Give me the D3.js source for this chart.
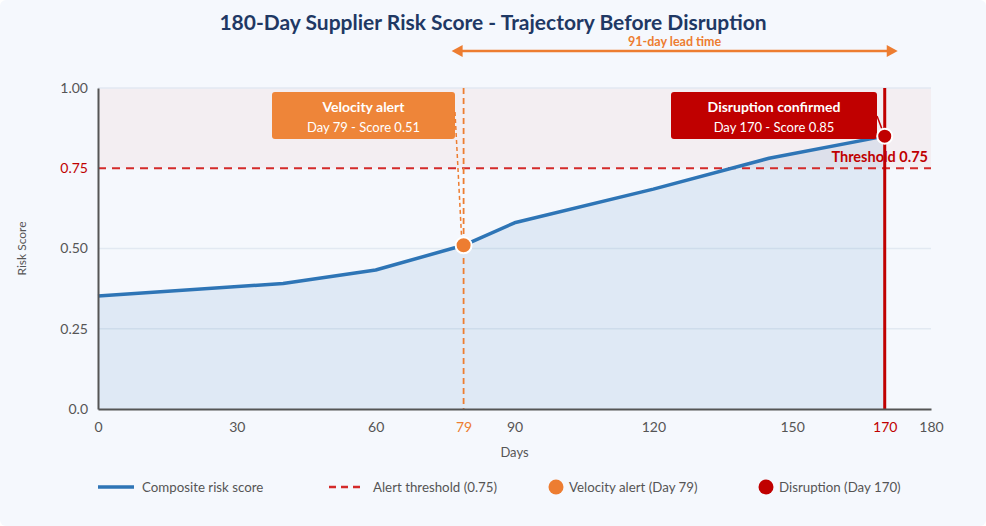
<!DOCTYPE html>
<html>
<head>
<meta charset="utf-8">
<script src="https://cdn.jsdelivr.net/npm/d3@7"></script>
<style>
  html, body { margin: 0; padding: 0; background: #ffffff; }
  svg { display: block; font-family: Lato, "Open Sans", sans-serif; }
</style>
</head>
<body>
<div id="chart"></div>
<script>
// risk score trajectory
const days = [0, 40, 60, 79, 90, 120, 145, 170];
const scores = [0.352, 0.391, 0.433, 0.51, 0.58, 0.685, 0.781, 0.85];

const xTicks = [0, 30, 60, 79, 90, 120, 150, 170, 180];
const yTicks = [0, 0.25, 0.5, 0.75, 1];

const threshold = 0.75;
const alertDay = 79;
const alertScore = 0.51;
const disruptionDay = 170;
const disruptionScore = 0.85;

const legendItems = [
  { label: "Composite risk score", type: "line" },
  { label: "Alert threshold (0.75)", type: "dash" },
  { label: "Velocity alert (Day 79)", type: "orange" },
  { label: "Disruption (Day 170)", type: "red" }
];

const width = 986;
const height = 526;
const margin = { top: 88, right: 55, bottom: 117, left: 98 };

const blue = "#2e75b6";
const orange = "#ed7d31";
const red = "#c00000";
const dashRed = "#d42a2a";

const svg = d3.select("#chart").append("svg")
  .attr("width", width)
  .attr("height", height);

svg.append("rect")
  .attr("x", 0).attr("y", 0)
  .attr("width", width).attr("height", height)
  .attr("rx", 6)
  .attr("fill", "#f5f8fd");

const x = d3.scaleLinear().domain([0, 180]).range([margin.left, width - margin.right]);
const y = d3.scaleLinear().domain([0, 1]).range([height - margin.bottom, margin.top]);

const data = days.map((d, i) => ({ day: d, score: scores[i] }));

// danger zone above threshold
svg.append("rect")
  .attr("x", x(0))
  .attr("y", y(1))
  .attr("width", x(180) - x(0))
  .attr("height", y(threshold) - y(1))
  .attr("fill", "#f3eef2");

// gridlines
svg.append("g")
  .selectAll("line")
  .data(yTicks.filter(t => t !== 0 && t !== threshold))
  .join("line")
  .attr("x1", x(0)).attr("x2", x(180))
  .attr("y1", d => y(d)).attr("y2", d => y(d))
  .attr("stroke", "#e2e9f2")
  .attr("stroke-width", 1.5);

// area under curve
const area = d3.area()
  .x(d => x(d.day))
  .y0(y(0))
  .y1(d => y(d.score));

svg.append("path")
  .datum(data)
  .attr("d", area)
  .attr("fill", "#2e75b6")
  .attr("fill-opacity", 0.11);

// threshold line
svg.append("line")
  .attr("x1", x(0)).attr("x2", x(180))
  .attr("y1", y(threshold)).attr("y2", y(threshold))
  .attr("stroke", dashRed)
  .attr("stroke-width", 2)
  .attr("stroke-dasharray", "8,6");

svg.append("text")
  .attr("x", x(180) - 3)
  .attr("y", y(threshold) - 6)
  .attr("text-anchor", "end")
  .attr("font-size", 14.5)
  .attr("font-weight", "bold")
  .attr("fill", red)
  .text("Threshold 0.75");

// velocity alert vertical
svg.append("line")
  .attr("x1", x(alertDay)).attr("x2", x(alertDay))
  .attr("y1", y(1)).attr("y2", y(0))
  .attr("stroke", orange)
  .attr("stroke-width", 1.8)
  .attr("stroke-dasharray", "6,4");

// disruption vertical
svg.append("line")
  .attr("x1", x(disruptionDay)).attr("x2", x(disruptionDay))
  .attr("y1", y(1)).attr("y2", y(0))
  .attr("stroke", red)
  .attr("stroke-width", 3);

// risk line
const line = d3.line()
  .x(d => x(d.day))
  .y(d => y(d.score));

svg.append("path")
  .datum(data)
  .attr("d", line)
  .attr("fill", "none")
  .attr("stroke", blue)
  .attr("stroke-width", 3.5)
  .attr("stroke-linejoin", "round");

// axes
const yAxis = svg.append("g")
  .attr("transform", `translate(${x(0)},0)`)
  .call(d3.axisLeft(y).tickValues(yTicks).tickSize(0).tickPadding(10)
    .tickFormat(d => d === 0 ? "0.0" : d3.format(".2f")(d)));
yAxis.select(".domain").attr("stroke", "#555").attr("stroke-width", 2);
yAxis.selectAll("text")
  .attr("font-family", "Lato, sans-serif")
  .attr("font-size", 14)
  .attr("fill", d => d === threshold ? red : "#555");

const xAxis = svg.append("g")
  .attr("transform", `translate(0,${y(0)})`)
  .call(d3.axisBottom(x).tickValues(xTicks).tickSize(0).tickPadding(13));
xAxis.select(".domain").attr("stroke", "#555").attr("stroke-width", 2);
xAxis.selectAll("text")
  .attr("font-family", "Lato, sans-serif")
  .attr("font-size", 14)
  .attr("fill", d => d === alertDay ? orange : d === disruptionDay ? red : "#555");

svg.append("text")
  .attr("x", x(90))
  .attr("y", 457)
  .attr("text-anchor", "middle")
  .attr("font-size", 13)
  .attr("fill", "#555")
  .text("Days");

svg.append("text")
  .attr("transform", `translate(26,${y(0.5)}) rotate(-90)`)
  .attr("text-anchor", "middle")
  .attr("font-size", 12)
  .attr("fill", "#555")
  .text("Risk Score");

// annotation boxes
function callout(label, sub, fill, boxRight, boxW) {
  const bx = boxRight - boxW;
  const by = 92;
  const bh = 47;
  const g = svg.append("g");
  g.append("rect")
    .attr("x", bx).attr("y", by)
    .attr("width", boxW).attr("height", bh)
    .attr("rx", 3)
    .attr("fill", fill);
  g.append("text")
    .attr("x", bx + boxW / 2).attr("y", by + 20)
    .attr("text-anchor", "middle")
    .attr("font-size", 14)
    .attr("font-weight", "bold")
    .attr("fill", "#fff")
    .text(label);
  g.append("text")
    .attr("x", bx + boxW / 2).attr("y", by + 40)
    .attr("text-anchor", "middle")
    .attr("font-size", 13)
    .attr("fill", "#fff")
    .text(sub);
  return g;
}

callout("Velocity alert", "Day 79 - Score 0.51", "#ee8539", 455, 183);
callout("Disruption confirmed", "Day 170 - Score 0.85", red, 877, 206);

// connectors
svg.append("line")
  .attr("x1", 455).attr("y1", 112)
  .attr("x2", x(alertDay) - 2).attr("y2", y(alertScore) - 8)
  .attr("stroke", orange)
  .attr("stroke-width", 1.5)
  .attr("stroke-dasharray", "4,3");

svg.append("line")
  .attr("x1", 877).attr("y1", 116)
  .attr("x2", x(disruptionDay)).attr("y2", y(disruptionScore))
  .attr("stroke", red)
  .attr("stroke-width", 1.5);

// markers
svg.append("circle")
  .attr("cx", x(alertDay)).attr("cy", y(alertScore))
  .attr("r", 8)
  .attr("fill", orange)
  .attr("stroke", "#fff")
  .attr("stroke-width", 2);

svg.append("circle")
  .attr("cx", x(disruptionDay)).attr("cy", y(disruptionScore))
  .attr("r", 7.5)
  .attr("fill", red)
  .attr("stroke", "#fff")
  .attr("stroke-width", 2);

// lead time arrow
const ay = 51;
const ax1 = x(alertDay) - 12;
const ax2 = x(disruptionDay) + 13;
svg.append("line")
  .attr("x1", ax1 + 6).attr("x2", ax2 - 6)
  .attr("y1", ay).attr("y2", ay)
  .attr("stroke", orange)
  .attr("stroke-width", 2.5);
svg.append("path")
  .attr("d", `M${ax1},${ay} L${ax1 + 11},${ay - 6} L${ax1 + 11},${ay + 6} Z`)
  .attr("fill", orange);
svg.append("path")
  .attr("d", `M${ax2},${ay} L${ax2 - 11},${ay - 6} L${ax2 - 11},${ay + 6} Z`)
  .attr("fill", orange);
svg.append("text")
  .attr("x", (ax1 + ax2) / 2)
  .attr("y", ay - 5)
  .attr("text-anchor", "middle")
  .attr("font-size", 12.5)
  .attr("font-weight", "bold")
  .attr("fill", orange)
  .text("91-day lead time");

// title
svg.append("text")
  .attr("x", width / 2)
  .attr("y", 30)
  .attr("text-anchor", "middle")
  .attr("font-size", 21)
  .attr("font-weight", "bold")
  .attr("fill", "#1f3864")
  .text("180-Day Supplier Risk Score - Trajectory Before Disruption");

// legend
const legendX = [98, 329, 549, 759];
const ly = 487;
const lg = svg.append("g");
legendItems.forEach((item, i) => {
  const lx = legendX[i];
  let tx = lx + 44;
  if (item.type === "line") {
    lg.append("line")
      .attr("x1", lx).attr("x2", lx + 36)
      .attr("y1", ly).attr("y2", ly)
      .attr("stroke", blue).attr("stroke-width", 3.5);
  } else if (item.type === "dash") {
    lg.append("line")
      .attr("x1", lx).attr("x2", lx + 36)
      .attr("y1", ly).attr("y2", ly)
      .attr("stroke", dashRed).attr("stroke-width", 2.5)
      .attr("stroke-dasharray", "7,5");
  } else {
    lg.append("circle")
      .attr("cx", lx + 7).attr("cy", ly)
      .attr("r", 7.5)
      .attr("fill", item.type === "orange" ? orange : red);
    tx = lx + 20;
  }
  lg.append("text")
    .attr("x", tx).attr("y", ly + 4.5)
    .attr("font-size", 13.3)
    .attr("fill", "#555")
    .text(item.label);
});
</script>
</body>
</html>
